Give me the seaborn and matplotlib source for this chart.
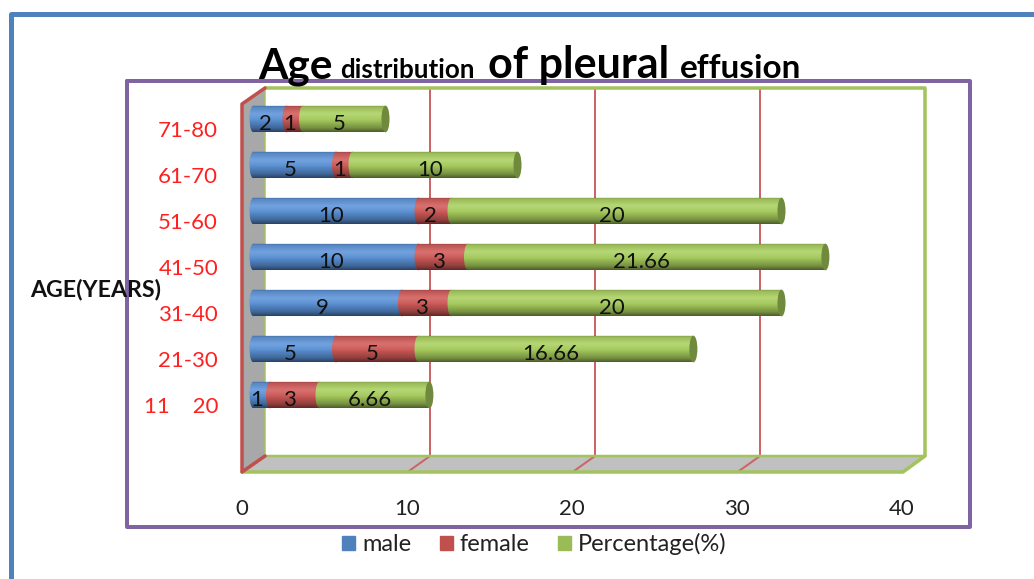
import numpy as np
import matplotlib
matplotlib.use("Agg")
import matplotlib.pyplot as plt
from matplotlib.patches import Polygon, Ellipse, Patch
from matplotlib.lines import Line2D
from matplotlib.transforms import ScaledTranslation
import seaborn as sns

age_groups = ["71-80", "61-70", "51-60", "41-50", "31-40", "21-30", "11    20"]
male = [2, 5, 10, 10, 9, 5, 1]
female = [1, 1, 2, 3, 3, 5, 3]
percentage = [5, 10, 20, 21.66, 20, 16.66, 6.66]
x_ticks = [0, 10, 20, 30, 40]
series_names = ["male", "female", "Percentage(%)"]

BLUE, RED, GREEN, CAP = "#5b93d8", "#d05a58", "#a9cf5e", "#6f8a3c"
W, H = 1034, 579
sns.set_theme(style="white")
plt.rcParams["font.family"] = ["Lato", "DejaVu Sans"]

fig = plt.figure(figsize=(W / 100, H / 100), dpi=100, facecolor="white")
X0, UNIT, TOP, ROW = 253.5, 16.5, 96, 46
XMIN = -0.5
ax = fig.add_axes([(X0 + XMIN * UNIT) / W, 1 - (TOP + 8 * ROW) / H,
                   (40 - XMIN) * UNIT / W, 8 * ROW / H])
ax.patch.set_visible(False)


def fx(x):
    return x / W


def fy(y):
    return 1 - y / H


def chrome_line(xs, ys, color, px, z=-1):
    fig.add_artist(Line2D([fx(v) for v in xs], [fy(v) for v in ys], color=color,
                          lw=px * 0.72, zorder=z, solid_capstyle="round",
                          solid_joinstyle="round", transform=fig.transFigure))


def chrome_poly(points, color, z=-2):
    fig.add_artist(Polygon([(fx(a), fy(b)) for a, b in points], closed=True,
                           facecolor=color, edgecolor="none", zorder=z,
                           transform=fig.transFigure))


# outer frames
chrome_line([10.5, 10.5, 1034], [579, 13.5, 13.5], "#4f81bd", 5)
chrome_line([127, 970, 970, 127, 127], [81, 81, 527, 527, 81], "#8064a2", 4)

# walls of the 3-D box
chrome_poly([(242, 104), (265, 88), (265, 456), (242, 472)], "#a8a8a8")
chrome_poly([(242, 472), (265, 456), (925, 456), (903, 472)], "#c0c0c0")
for v in x_ticks[1:-1]:
    bx = 265 + v * UNIT
    chrome_line([bx, bx, bx - 21], [88, 456, 471], "#cc6565", 2)
chrome_line([265, 925, 925, 903, 242], [88, 88, 456, 472, 472], "#a2c35d", 3.5)
chrome_line([265, 925], [456, 456], "#a2c35d", 2.5)
chrome_line([265, 265], [88, 456], "#a2c35d", 1.5)
chrome_line([265, 242, 242, 265], [88, 104, 472, 456], "#c0504d", 3.5, z=-0.5)

# stacked bars drawn as layered cumulative totals
male_arr = np.array(male, float)
female_arr = np.array(female, float)
pct_arr = np.array(percentage, float)
bar_w = 0.58
sns.barplot(x=male_arr + female_arr + pct_arr, y=age_groups, color=GREEN, orient="h",
            width=bar_w, saturation=1, ax=ax, zorder=3, linewidth=0)
sns.barplot(x=male_arr + female_arr, y=age_groups, color=RED, orient="h",
            width=bar_w, saturation=1, ax=ax, zorder=3.1, linewidth=0)
sns.barplot(x=male_arr, y=age_groups, color=BLUE, orient="h",
            width=bar_w, saturation=1, ax=ax, zorder=3.2, linewidth=0)

cap_w = 8 / UNIT
shade = np.zeros((64, 1, 4))
t = np.linspace(0, 1, 64)
shade[..., 3] = np.interp(t, [0, .08, .3, .55, .85, 1], [.28, .1, 0, .03, .3, .55])[:, None]
hi = np.zeros((64, 1, 4))
hi[..., :3] = 1
hi[..., 3] = np.interp(t, [0, .12, .35, .6, 1], [0, .06, .14, 0, 0])[:, None]
theta = np.linspace(np.pi / 2, 3 * np.pi / 2, 30)
for i, (m, f, p) in enumerate(zip(male_arr, female_arr, pct_arr)):
    total = m + f + p
    for pos, col, z in ((0, BLUE, 3.3), (m, RED, 3.4), (m + f, GREEN, 3.5)):
        ax.add_patch(Ellipse((pos, i), cap_w, bar_w, color=col, lw=0, zorder=z))
    outline = np.column_stack([cap_w / 2 * np.cos(theta), i - bar_w / 2 * np.sin(theta)])
    outline = np.vstack([outline, [[total, i + bar_w / 2], [total, i - bar_w / 2]]])
    clip = Polygon(outline, closed=True, transform=ax.transData)
    for layer in (hi, shade):
        im = ax.imshow(layer, extent=[-cap_w / 2, total, i + bar_w / 2, i - bar_w / 2],
                       aspect="auto", zorder=3.6, interpolation="bilinear")
        im.set_clip_path(clip)
    ax.add_patch(Ellipse((total, i), cap_w, bar_w, color=CAP, lw=0, zorder=3.7))
    nudge = -5 / UNIT
    for val, text_val in ((m / 2, m), (m + f / 2, f), (m + f + p / 2, p)):
        ax.text(val + nudge, i + 0.1, f"{text_val:g}", ha="center", va="center",
                fontsize=16, color="#111111", zorder=5)

ax.set_xlim(XMIN, 40)
ax.set_ylim(7.5, -0.5)
ax.set_xlabel("")
ax.set_ylabel("")
sns.despine(ax=ax, left=True, bottom=True)
ax.set_xticks(x_ticks)
ax.tick_params(axis="both", length=0)
ax.tick_params(axis="x", pad=25, labelsize=16, labelcolor="#222222")
ax.tick_params(axis="y", pad=19.5, labelsize=16, labelcolor="#ff2020")
for lab in ax.get_xticklabels():
    lab.set_transform(lab.get_transform() + ScaledTranslation(-11.5 / 100, 0, fig.dpi_scale_trans))
for lab in ax.get_yticklabels():
    lab.set_transform(lab.get_transform() + ScaledTranslation(0, -10 / 100, fig.dpi_scale_trans))

# axis title and mixed-size chart title
fig.text(fx(30), fy(289), "AGE(YEARS)", fontsize=16.7, fontweight="bold", color="#111111",
         ha="left", va="center", zorder=6)
for x, s, size in ((258, "Age", 30.5), (340, "distribution", 18.7),
                   (488, "of pleural", 31), (680, "effusion", 24)):
    fig.text(fx(x), fy(78), s, fontsize=size, fontweight="bold", color="black",
             ha="left", va="baseline", zorder=6)

handles = [Patch(color=c, label=n) for c, n in zip(("#4f81bd", "#c0504d", "#9bbb59"), series_names)]
fig.legend(handles=handles, ncol=3, frameon=False, loc="center",
           bbox_to_anchor=(fx(534.5), fy(544)), fontsize=17, labelcolor="#222222",
           handlelength=0.55, handleheight=0.55, handletextpad=0.3, columnspacing=1.2,
           borderpad=0, borderaxespad=0)

fig.savefig("out.png", dpi=100)
